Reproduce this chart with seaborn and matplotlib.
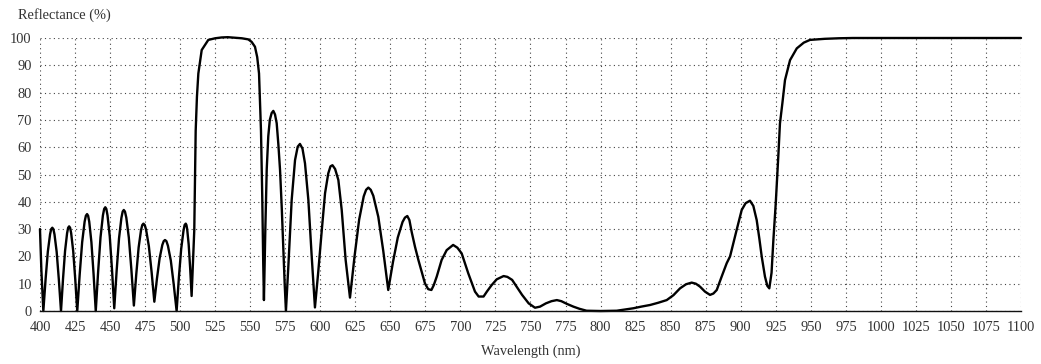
import matplotlib
matplotlib.use("Agg")
import matplotlib.pyplot as plt
import seaborn as sns
import pandas as pd
from matplotlib.ticker import MultipleLocator

# ---- data ----
wavelength_nm = [
    400, 401, 402.4,
    404.0, 405.6, 407.2, 408.0, 408.8, 409.55, 410.35, 411.9, 413.45, 415.0,
    416.45, 417.9, 419.35, 420.1, 420.8, 421.5, 422.25, 423.7, 425.15, 426.6,
    428.35, 430.1, 431.85, 432.75, 433.6, 434.35, 435.15, 436.7, 438.25, 439.8,
    441.5, 443.2, 444.9, 445.8, 446.6, 447.35, 448.2, 449.8, 451.4, 453.0,
    454.7, 456.4, 458.1, 459.0, 459.8, 460.65, 461.6, 463.4, 465.2, 467.0,
    468.7, 470.4, 472.1, 473.0, 473.8, 474.75, 475.75, 477.7, 479.65, 481.6,
    483.5, 485.4, 487.3, 488.3, 489.2, 490.2, 491.3, 493.35, 495.4, 497.5,
    499.1, 500.75, 502.4, 503.2, 504.0, 504.5, 505.05, 506.1, 507.15, 508.2,
    510.1, 511.1, 512.0, 513.0, 515.4, 520.1, 525, 529.6, 534, 539.1, 544,
    548.6, 551, 553.4, 555, 556.3, 557.7, 558.6, 559.3, 559.8,
    560.8, 561.8, 562.9, 564.0, 565.3, 566.5, 567.7, 568.9, 570.1, 571.3,
    572.5, 573.6, 574.6, 575.5,
    577.2, 579.6, 582.0, 583.9, 585.5, 587.3, 589.1, 591.5, 593.9, 596.2,
    598.5, 600.9, 603.4, 605.7, 607.3, 608.7, 610.6, 612.9, 615.3, 618.1, 621.2,
    624.5, 627.75, 631.0, 632.7, 634.3, 636.0, 637.85, 641.4, 644.95, 648.5,
    651.9, 655.3, 658.7, 660.4, 662.1, 663.6, 665.2, 667.6, 670.0, 674.7, 677, 679.3,
    681, 683.1, 686.6, 690.2, 694.8, 697.8, 700.9, 705.6, 710.4, 713,
    716.5, 719, 722.3, 725.9, 730.8, 733.5, 736.9, 740.5, 744.0, 748.7, 753.2,
    756.8, 761, 765, 768.8, 772, 776, 780.6, 785, 790, 800, 811.5, 817,
    823.4, 829, 835.3, 841, 847.2, 852, 856.7, 861, 865, 868, 871, 874.5,
    878.1, 880.5, 882.9, 886.4, 890, 892.4, 894.7, 897.1, 900.7, 903.5,
    906.6, 909, 911.4, 913.3, 915, 917.3, 919, 920.4, 922, 923.3, 925,
    926.8, 928, 929.7, 931.6, 935.2, 940, 945, 949.4, 960, 970, 980, 1100,
]
reflectance_pct = [
    30, 15, 0,
    11.6, 21.7, 28.1, 30.0, 30.5, 30.0, 28.1, 21.7, 11.6, 0,
    11.8, 22.0, 28.5, 30.5, 31, 30.5, 28.5, 22.0, 11.8, 0,
    13.5, 25.2, 32.7, 34.9, 35.5, 34.9, 32.7, 25.2, 13.5, 0,
    14.4, 27.0, 35.0, 37.4, 38, 37.4, 35.0, 27.3, 15.1, 1,
    14.7, 26.6, 34.1, 36.4, 37, 36.4, 34.2, 26.9, 15.3, 2,
    13.4, 23.3, 29.6, 31.5, 32, 31.5, 29.7, 23.7, 14.3, 3.4,
    12.0, 19.4, 24.2, 25.6, 26, 25.6, 23.9, 18.5, 9.9, 0,
    12.2, 22.7, 29.4, 31.5, 32, 31.5, 29.9, 24.4, 15.8, 5.5,
    29.7, 66, 78.5, 87, 95.6, 99.3, 99.9, 100.2, 100.3, 100.1, 99.9,
    99.5, 98.6, 96.8, 93, 87, 66, 41.9, 17.5, 4,
    30, 52, 64, 70, 72.5, 73.3, 72, 68.8, 61, 51.6,
    38, 23.5, 10, 0,
    16.2, 40.7, 55.3, 60.2, 61.2, 59.5, 54.1, 40.7, 19.9, 1.3,
    14, 28.5, 43.1, 50.4, 53, 53.4, 52, 48, 37, 18.7, 4.9,
    20.2, 33.5, 42, 44.4, 45.2, 44.4, 42.2, 34.5, 22, 7.7,
    18.0, 26.9, 32.6, 34.2, 34.8, 33.3, 29, 23.5, 18.7, 10.1, 8, 7.7,
    9.5, 12.6, 18.7, 22.3, 24.2, 23.2, 21.1, 13.8, 7.1, 5.3,
    5.3, 7.2, 9.5, 11.6, 12.8, 12.5, 11.4, 8.6, 5.9, 2.8, 1.2,
    1.6, 2.8, 3.6, 4.0, 3.6, 2.6, 1.6, 0.8, 0.1, 0, 0.1, 0.5,
    1.0, 1.6, 2.2, 3.0, 4.0, 5.8, 8.3, 9.8, 10.4, 10, 8.9, 7.1,
    5.9, 6.4, 7.7, 12.6, 17.5, 20, 24.8, 29.7, 37, 39.5,
    40.4, 38.5, 33.3, 26.5, 19.9, 12.6, 9.2, 8.3, 14, 26, 39.5,
    56.5, 68.7, 76, 84.6, 91.9, 96.2, 98.3, 99.3, 99.7, 99.9, 100, 100,
]
x_ticks = list(range(400, 1101, 25))
y_ticks = list(range(0, 101, 10))
x_label = "Wavelength (nm)"
y_label = "Reflectance (%)"

df = pd.DataFrame({"wl": wavelength_nm, "R": reflectance_pct})

sns.set_style("white")
plt.rcParams["font.family"] = ["Liberation Serif", "DejaVu Serif"]

fig = plt.figure(figsize=(10.41, 3.64), dpi=100)
ax = fig.add_axes([0.0384, 0.1456, 0.9424, 0.75])

sns.lineplot(data=df, x="wl", y="R", ax=ax, color="black", linewidth=1.7,
             estimator=None, sort=False, clip_on=False)

fs = 10.4
ax.set_xlim(400, 1100)
ax.set_ylim(0, 100)
ax.set_xticks(x_ticks)
ax.set_xticklabels([str(t) for t in x_ticks], fontsize=fs, color="#333333")
ax.set_yticks(y_ticks)
ax.set_yticklabels([str(t) for t in y_ticks], fontsize=fs, color="#333333")
ax.xaxis.set_minor_locator(MultipleLocator(12.5))
ax.yaxis.set_minor_locator(MultipleLocator(5))

ax.tick_params(axis="x", which="both", direction="inout", length=6, width=0.8,
               color="#222222", pad=4)
ax.tick_params(axis="y", which="both", direction="out", length=4, width=0.8,
               color="#222222", pad=2)

ax.grid(True, which="major", linestyle=(0, (1, 3)), color="#444444", linewidth=0.8)
for side in ["left", "right", "top"]:
    ax.spines[side].set_visible(False)
ax.spines["bottom"].set_color("#111111")
ax.spines["bottom"].set_linewidth(1.0)

ax.set_xlabel(x_label, fontsize=fs, color="#333333", labelpad=8)
ax.set_ylabel("")
fig.text(18 / 1041, 1 - 15 / 364, y_label, fontsize=fs, color="#333333",
         ha="left", va="center")

fig.savefig("out.png", dpi=100, facecolor="white")
